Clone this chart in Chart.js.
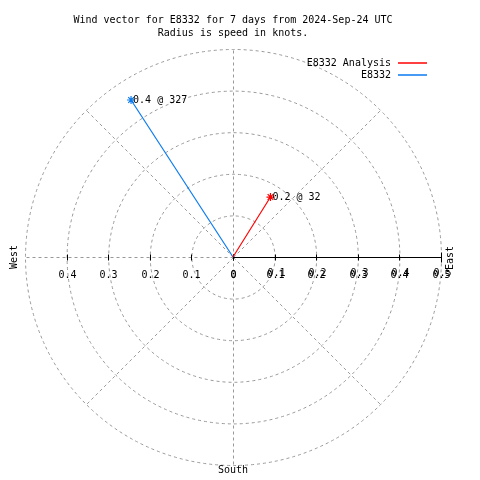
<!DOCTYPE html>
<html>
<head>
<meta charset="utf-8">
<script src="https://cdn.jsdelivr.net/npm/chart.js@4/dist/chart.umd.min.js"></script>
<style>
  body { margin: 0; background: #fff; }
  #wrap { width: 480px; height: 480px; }
</style>
</head>
<body>
<div id="wrap"><canvas id="windChart" width="480" height="480"></canvas></div>
<script>
// Wind vectors (speed in knots, direction in degrees from north)
const seriesNames = ["E8332 Analysis", "E8332"];
const seriesColors = ["#ff0000", "#0a7af0"];
const speeds = [0.17, 0.45];
const directions = [32, 327];
const pointLabels = ["0.2 @ 32", "0.4 @ 327"];

// radius rings and tick labels
const rings = [0.1, 0.2, 0.3, 0.4, 0.5];
const leftTicks = ["0.4", "0.3", "0.2", "0.1", "0"];
const leftTickValues = [-0.4, -0.3, -0.2, -0.1, 0];
const rightTicks = ["0", "0.1", "0.2", "0.3", "0.4", "0.5"];
const rightTickValues = [0, 0.1, 0.2, 0.3, 0.4, 0.5];
const spokeAngles = [0, 45, 90, 135, 180, 225, 270, 315];

const titleLines = ["Wind vector for E8332 for 7 days from 2024-Sep-24 UTC", "Radius is speed in knots."];
const FONT = "10px 'DejaVu Sans Mono', monospace";
const GRID = "#999999";

function toXY(speed, dir) {
    let a = dir * Math.PI / 180;
    return { x: speed * Math.sin(a), y: speed * Math.cos(a) };
}

// polar grid, axis and text drawn around the datasets
const polarPlugin = {
    id: "polarGrid",
    beforeDatasetsDraw(chart) {
        let ctx = chart.ctx;
        let xs = chart.scales.x, ys = chart.scales.y;
        let cx = Math.round(xs.getPixelForValue(0)) + 0.5, cy = Math.round(ys.getPixelForValue(0)) + 0.5;
        ctx.save();
        ctx.strokeStyle = GRID;
        ctx.lineWidth = 1;
        ctx.setLineDash([3, 3]);
        rings.forEach(r => {
            let rad = xs.getPixelForValue(r) - xs.getPixelForValue(0);
            ctx.beginPath();
            ctx.arc(cx, cy, rad, 0, Math.PI * 2);
            ctx.stroke();
        });
        spokeAngles.forEach(a => {
            let p = toXY(0.5, a);
            ctx.beginPath();
            ctx.moveTo(cx, cy);
            ctx.lineTo(Math.round(xs.getPixelForValue(p.x)) + 0.5, Math.round(ys.getPixelForValue(p.y)) + 0.5);
            ctx.stroke();
        });
        ctx.setLineDash([]);
        // black radius axis to the east
        ctx.strokeStyle = "#000";
        ctx.beginPath();
        ctx.moveTo(cx, cy);
        ctx.lineTo(Math.round(xs.getPixelForValue(0.5)) + 0.5, cy);
        ctx.stroke();
        ctx.fillStyle = "#000";
        ctx.font = FONT;
        ctx.textAlign = "center";
        ctx.textBaseline = "middle";
        leftTickValues.forEach((v, i) => {
            let px = Math.round(xs.getPixelForValue(v)) + 0.5;
            ctx.beginPath();
            ctx.moveTo(px, cy - 3);
            ctx.lineTo(px, cy + 3);
            ctx.stroke();
            ctx.fillText(leftTicks[i], px, cy + 18);
        });
        rightTickValues.forEach((v, i) => {
            let px = Math.round(xs.getPixelForValue(v)) + 0.5;
            ctx.beginPath();
            ctx.moveTo(px, cy - (i === 5 ? 5 : 3));
            ctx.lineTo(px, cy + (i === 5 ? 5 : 3));
            ctx.stroke();
            ctx.fillText(rightTicks[i], px, cy + 18);
            if (i > 0) ctx.fillText(rightTicks[i], px + 1, cy + 16);
        });
        ctx.restore();
    },
    afterDraw(chart) {
        let ctx = chart.ctx;
        let xs = chart.scales.x, ys = chart.scales.y;
        let cx = xs.getPixelForValue(0), cy = ys.getPixelForValue(0);
        ctx.save();
        ctx.fillStyle = "#000";
        ctx.font = FONT;
        ctx.textBaseline = "middle";
        ctx.textAlign = "center";
        ctx.fillText(titleLines[0], 233, 20);
        ctx.fillText(titleLines[1], 233, 33);
        ctx.fillText("South", cx, 470);
        ctx.save();
        ctx.translate(14, cy);
        ctx.rotate(-Math.PI / 2);
        ctx.fillText("West", 0, 0);
        ctx.restore();
        ctx.save();
        ctx.translate(450, cy + 1);
        ctx.rotate(-Math.PI / 2);
        ctx.fillText("East", 0, 0);
        ctx.restore();
        // point labels
        ctx.textAlign = "left";
        speeds.forEach((s, i) => {
            let p = toXY(s, directions[i]);
            ctx.fillText(pointLabels[i], xs.getPixelForValue(p.x) + 2, ys.getPixelForValue(p.y));
        });
        // legend
        ctx.textAlign = "right";
        seriesNames.forEach((name, i) => {
            let y = 63 + i * 12;
            ctx.fillText(name, 391, y);
            ctx.strokeStyle = seriesColors[i];
            ctx.lineWidth = 1.5;
            ctx.beginPath();
            ctx.moveTo(398, y);
            ctx.lineTo(427, y);
            ctx.stroke();
        });
        ctx.restore();
    }
};

let datasets = seriesNames.map((name, i) => ({
    label: name,
    data: [{ x: 0, y: 0 }, toXY(speeds[i], directions[i])],
    showLine: true,
    borderColor: seriesColors[i],
    backgroundColor: seriesColors[i],
    borderWidth: 1.2,
    pointStyle: "star",
    pointRadius: [0, 4],
    pointBorderWidth: 1.2,
    clip: false
}));

new Chart(document.getElementById("windChart").getContext("2d"), {
    type: "scatter",
    data: { datasets: datasets },
    options: {
        responsive: false,
        animation: false,
        layout: { padding: { left: 25, right: 39, top: 49, bottom: 15 } },
        scales: {
            x: { type: "linear", min: -0.5, max: 0.5, display: false },
            y: { type: "linear", min: -0.5, max: 0.5, display: false }
        },
        plugins: { legend: { display: false }, tooltip: { enabled: false } }
    },
    plugins: [polarPlugin]
});
</script>
</body>
</html>
